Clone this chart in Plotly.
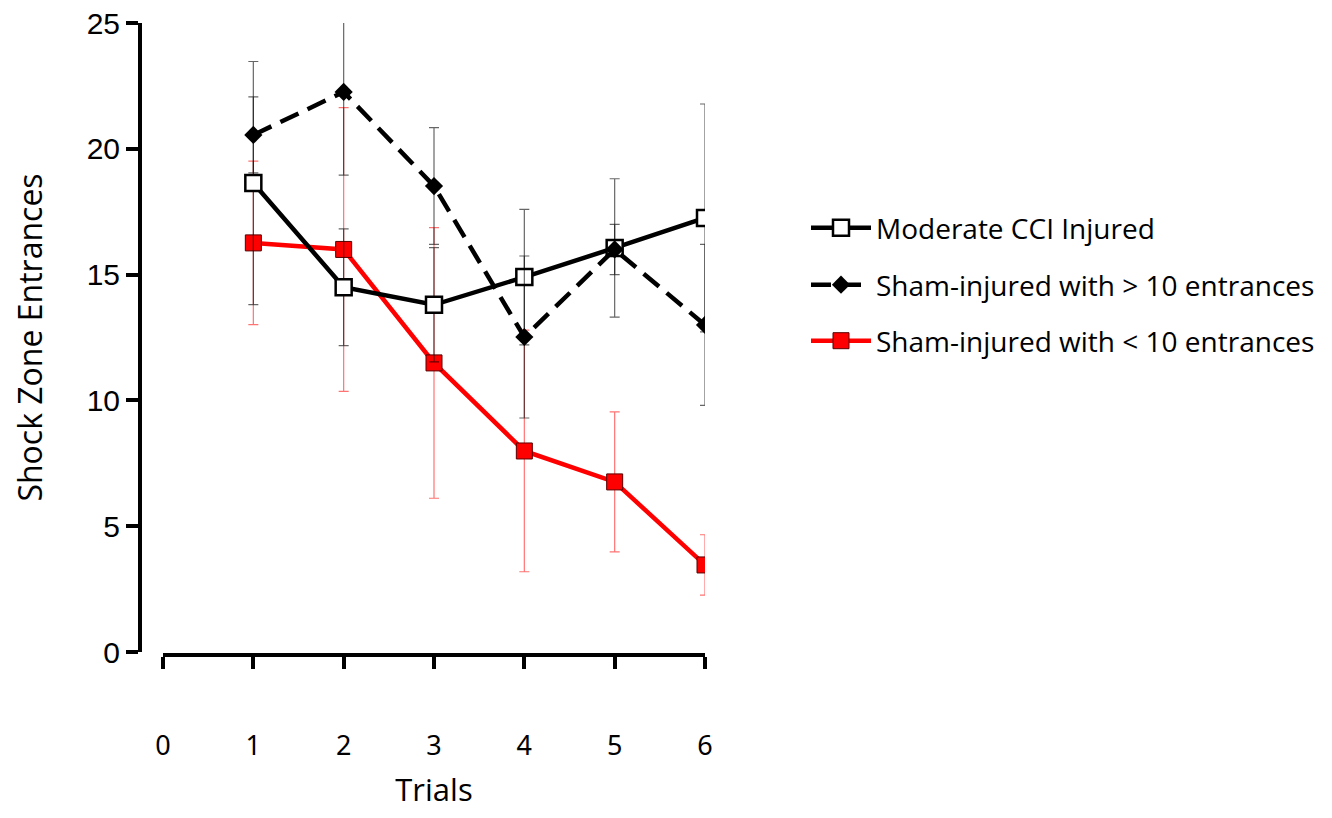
import plotly.graph_objects as go

trials = [1, 2, 3, 4, 5, 6]
tick_vals_x = [0, 1, 2, 3, 4, 5, 6]
tick_vals_y = [0, 5, 10, 15, 20, 25]

cci_mean = [18.64, 14.5, 13.8, 14.9, 16.06, 17.25]
cci_err = [4.83, 2.32, 2.27, 2.69, 2.75, 4.53]

sham_hi_mean = [20.55, 22.26, 18.52, 12.52, 16.0, 13.0]
sham_hi_err = [1.51, 3.31, 2.32, 3.22, 1.0, 3.2]

sham_lo_mean = [16.26, 16.0, 11.49, 7.99, 6.76, 3.46]
sham_lo_err = [3.25, 5.64, 5.38, 4.8, 2.78, 1.2]

# page body has an 8px default margin; size the figure to fit inside the window
OFF = 8
W, H = 1332 - 2 * OFF, 818 - 2 * OFF
def px_x(p):
    return (p - OFF) / W
def px_y(p):
    return (H - (p - OFF)) / H

fig = go.Figure()

fig.add_trace(go.Scatter(
    x=trials, y=sham_lo_mean, mode="lines+markers",
    name="Sham-injured with < 10 entrances",
    line=dict(color="#ff0000", width=4.5),
    marker=dict(symbol="square", size=16, color="#ff0000", line=dict(color="#5a0000", width=1)),
    error_y=dict(type="data", array=sham_lo_err, visible=True, color="rgba(255,0,0,0.55)", thickness=1.2, width=5),
    legend="legend3",
))
fig.add_trace(go.Scatter(
    x=trials, y=cci_mean, mode="lines+markers",
    name="Moderate CCI Injured",
    line=dict(color="#000000", width=4.5),
    marker=dict(symbol="square", size=16, color="#ffffff", line=dict(color="#000000", width=2.5)),
    error_y=dict(type="data", array=cci_err, visible=True, color="rgba(0,0,0,0.6)", thickness=1.2, width=5),
    legend="legend",
))
fig.add_trace(go.Scatter(
    x=trials, y=sham_hi_mean, mode="lines+markers",
    name="Sham-injured with > 10 entrances",
    line=dict(color="#000000", width=4.5, dash="20px,10px"),
    marker=dict(symbol="diamond", size=14, color="#000000"),
    error_y=dict(type="data", array=sham_hi_err, visible=True, color="rgba(0,0,0,0.6)", thickness=1.2, width=5),
    legend="legend2",
))

leg_font = dict(family="Open Sans, Lato, sans-serif", size=28, color="#000")
def leg(ypx):
    return dict(x=px_x(806), y=px_y(ypx), xanchor="left", yanchor="middle",
                font=leg_font, bgcolor="rgba(0,0,0,0)", itemwidth=60)

fig.update_layout(
    width=W, height=H, autosize=False,
    margin=dict(l=0, r=0, t=0, b=0),
    paper_bgcolor="white", plot_bgcolor="white",
    showlegend=True,
    legend=leg(228), legend2=leg(285), legend3=leg(341),
    xaxis=dict(
        domain=[px_x(163), px_x(705)], range=[0, 6],
        anchor="free", position=px_y(655), automargin=False,
        tickmode="array", tickvals=tick_vals_x,
        showline=True, linecolor="#000", linewidth=4,
        ticks="outside", ticklen=12, tickwidth=4, tickcolor="#000",
        ticklabelstandoff=54, ticklabeloverflow="allow",
        tickfont=dict(family="Noto Sans, Open Sans", size=27, color="#000"),
        showgrid=False, zeroline=False,
        title=dict(text="Trials", font=dict(family="Open Sans, sans-serif", size=31, color="#000"), standoff=34),
    ),
    yaxis=dict(
        domain=[px_y(652), px_y(23)], range=[0, 25],
        anchor="free", position=px_x(140), automargin=False,
        tickmode="array", tickvals=tick_vals_y,
        showline=True, linecolor="#000", linewidth=4,
        ticks="outside", ticklen=12, tickwidth=4, tickcolor="#000",
        ticklabeloverflow="allow",
        tickfont=dict(family="Liberation Sans, Arial", size=30, color="#000"),
        showgrid=False, zeroline=False,
        title=dict(text="Shock Zone Entrances", font=dict(family="Open Sans, sans-serif", size=32, color="#000"), standoff=36),
    ),
)

fig.write_html("out.html")
